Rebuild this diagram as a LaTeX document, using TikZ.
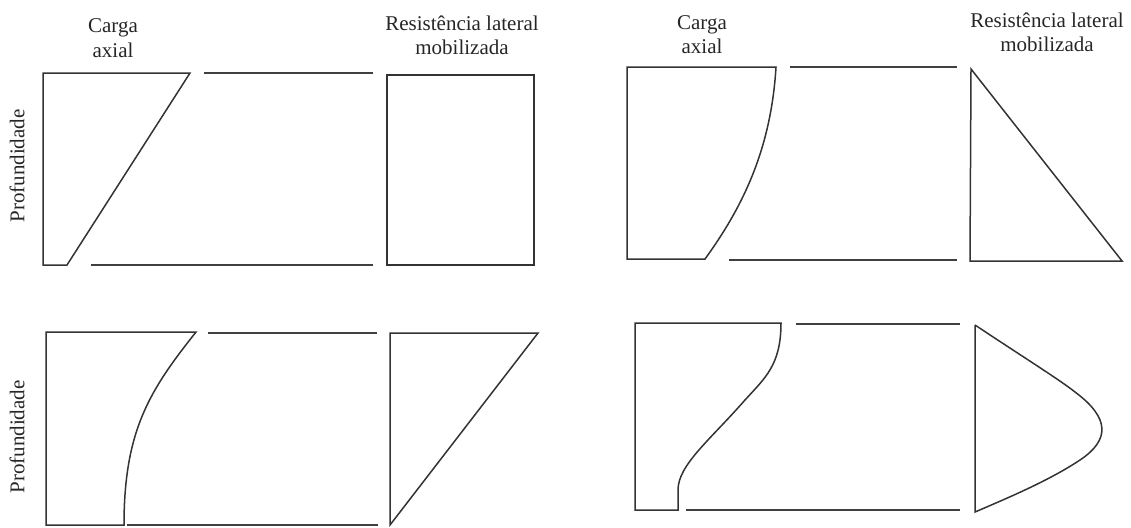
\documentclass[tikz,border=0pt]{standalone}
\usepackage{fontspec}
\setmainfont{Liberation Serif}
\begin{document}
\begin{tikzpicture}[x=1pt,y=-1pt,
  curveline/.style={draw=black!80,line width=1.5pt,line join=miter},
  guide/.style={draw=black!75,line width=1.8pt},
  label/.style={font=\fontsize{21}{24.5}\selectfont,text=black!85,align=center,inner sep=0pt,anchor=base},
  axislabel/.style={font=\fontsize{21}{24.5}\selectfont,text=black!85,inner sep=0pt,rotate=90}]
\useasboundingbox (0,0) rectangle (1131,527);

% ---------- top left: linear load, uniform resistance ----------
\node[label] (tlA) at (113,57) {Carga\\axial};
\node[label] (tlR) at (462,55) {Resistência lateral\\mobilizada};
\node[axislabel] (tlP) at (17,166) {Profundidade};
\draw[curveline] (43,73) -- (190,73) -- (67,265) -- (43,265) -- cycle;
\coordinate (tlT1) at (204,73);  \coordinate (tlT2) at (373,73);
\coordinate (tlB1) at (91,265);  \coordinate (tlB2) at (373,265);
\draw[guide] (tlT1) -- (tlT2);
\draw[guide] (tlB1) -- (tlB2);
\draw[curveline] (387,75) rectangle (534,265);

% ---------- top right: concave load, increasing resistance ----------
\node[label] (trA) at (702,54) {Carga\\axial};
\node[label] (trR) at (1047,52) {Resistência lateral\\mobilizada};
\draw[curveline] (627,67) -- (776,67) .. controls (771,150) and (742,208) .. (705,259) -- (627,259) -- cycle;
\coordinate (trT1) at (790,67);  \coordinate (trT2) at (957,67);
\coordinate (trB1) at (729,260); \coordinate (trB2) at (957,260);
\draw[guide] (trT1) -- (trT2);
\draw[guide] (trB1) -- (trB2);
\draw[curveline] (971,69) -- (970,261) -- (1122,261) -- cycle;

% ---------- bottom left: convex load, decreasing resistance ----------
\node[axislabel] (blP) at (17,437) {Profundidade};
\draw[curveline] (46,332) -- (196,332) .. controls (150,390) and (124,430) .. (124,525) -- (46,525) -- cycle;
\coordinate (blT1) at (208,333); \coordinate (blT2) at (377,333);
\coordinate (blB1) at (127,525); \coordinate (blB2) at (378,525);
\draw[guide] (blT1) -- (blT2);
\draw[guide] (blB1) -- (blB2);
\draw[curveline] (390,333) -- (538,333) -- (390,525) -- cycle;

% ---------- bottom right: S-shaped load, bulging resistance ----------
\draw[curveline] (635,323) -- (781,323)
  .. controls (781,365) and (765,378) .. (745,400)
  .. controls (710,440) and (678,465) .. (678,490)
  -- (678,510) -- (635,510) -- cycle;
\coordinate (brT1) at (796,324); \coordinate (brT2) at (960,324);
\coordinate (brB1) at (686,510); \coordinate (brB2) at (960,510);
\draw[guide] (brT1) -- (brT2);
\draw[guide] (brB1) -- (brB2);
\draw[curveline] (975,325) -- (975,512)
  .. controls (1010,497) and (1050,480) .. (1080,460)
  .. controls (1110,440) and (1110,418) .. (1075,392)
  .. controls (1060,380) and (1020,355) .. (975,325);
\end{tikzpicture}
\end{document}
